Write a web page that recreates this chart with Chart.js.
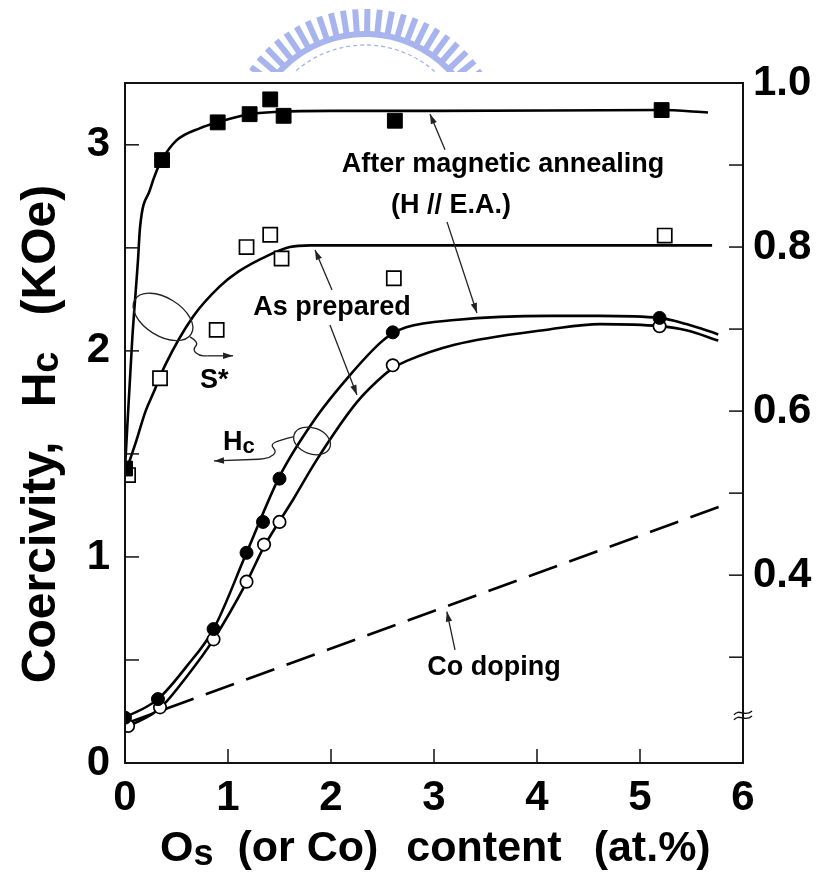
<!DOCTYPE html>
<html><head><meta charset="utf-8">
<script src="https://cdn.jsdelivr.net/npm/chart.js@4.4.0/dist/chart.umd.min.js"></script>
<style>html,body{margin:0;padding:0;background:#fff;}canvas{display:block;}</style>
</head><body>
<canvas id="c" width="829" height="874"></canvas>
<script>
// ---------- data ----------
// x = Os (or Co) content (at.%)
// S* (right axis) : filled squares = after magnetic annealing, open squares = as prepared
const xAnnealS = [0.00, 0.36, 0.90, 1.21, 1.41, 1.54, 2.62, 5.21];
const sAnneal  = [0.530, 0.906, 0.952, 0.962, 0.980, 0.960, 0.954, 0.967];
const xPrepS   = [0.03, 0.34, 0.89, 1.18, 1.41, 1.52, 2.61, 5.24];
const sPrep    = [0.522, 0.640, 0.699, 0.800, 0.815, 0.786, 0.762, 0.814];
// Hc (left axis, KOe) : filled circles = after annealing, open circles = as prepared
const xAnnealH = [0.00, 0.32, 0.86, 1.18, 1.34, 1.50, 2.60, 5.19];
const hcAnneal = [0.22, 0.31, 0.65, 1.02, 1.17, 1.38, 2.09, 2.16];
const xPrepH   = [0.03, 0.34, 0.86, 1.18, 1.35, 1.50, 2.60, 5.19];
const hcPrep   = [0.18, 0.27, 0.60, 0.88, 1.06, 1.17, 1.93, 2.12];
// hand-drawn guide curves
const curveAnnealSx = [0.00, 0.07, 0.126, 0.146, 0.243, 0.31, 0.356, 0.50, 0.73, 0.90, 1.20, 1.50, 2.00, 3.00, 5.20, 5.66];
const curveAnnealSy = [0.530, 0.687, 0.784, 0.824, 0.870, 0.894, 0.906, 0.930, 0.945, 0.952, 0.962, 0.965, 0.966, 0.966, 0.967, 0.964];
const curvePrepSx = [0.00, 0.10, 0.20, 0.275, 0.39, 0.66, 0.92, 1.10, 1.376, 1.60, 1.80, 3.00, 5.70];
const curvePrepSy = [0.523, 0.560, 0.600, 0.622, 0.656, 0.715, 0.752, 0.770, 0.789, 0.800, 0.802, 0.802, 0.802];
const curveAnnealHx = [0.00, 0.32, 0.60, 0.86, 1.18, 1.50, 1.86, 2.18, 2.48, 2.60, 2.73, 3.20, 4.13, 4.60, 5.19, 5.45, 5.76];
const curveAnnealHy = [0.22, 0.31, 0.47, 0.65, 1.02, 1.39, 1.68, 1.88, 2.04, 2.085, 2.115, 2.15, 2.17, 2.17, 2.16, 2.13, 2.08];
const curvePrepHx = [0.03, 0.34, 0.60, 0.86, 1.18, 1.35, 1.634, 1.86, 2.25, 2.52, 2.60, 2.73, 3.20, 4.13, 4.61, 5.19, 5.45, 5.76];
const curvePrepHy = [0.176, 0.266, 0.42, 0.60, 0.877, 1.05, 1.28, 1.47, 1.75, 1.885, 1.915, 1.95, 2.03, 2.105, 2.13, 2.12, 2.10, 2.05];
// Co doping (dashed straight line)
const xCoDoping = [0.00, 5.83];
const coDoping  = [0.19, 1.255];
// ticks
const xTicks = [0, 1, 2, 3, 4, 5, 6];
const leftTicks = [0, 0.5, 1, 1.5, 2, 2.5, 3];
const leftLabels = [0, 1, 2, 3];
const rightTicks = [0.3, 0.4, 0.5, 0.6, 0.7, 0.8, 0.9, 1.0];
const rightLabels = [0.4, 0.6, 0.8, 1.0];

// ---------- helpers ----------
const FONT = '"Liberation Sans", Arial, Helvetica, sans-serif';
const mk = (xs, ys) => xs.map((x, i) => ({x: x, y: ys[i]}));
const curve = (xs, ys, axis) => ({
  data: mk(xs, ys), yAxisID: axis, showLine: true, pointRadius: 0, borderColor: '#000',
  borderWidth: 2.6, cubicInterpolationMode: 'monotone', fill: false, order: 1
});

function arrow(ctx, x1, y1, x2, y2) {
  ctx.beginPath(); ctx.moveTo(x1, y1); ctx.lineTo(x2, y2); ctx.stroke();
  const a = Math.atan2(y2 - y1, x2 - x1), L = 10, W = 3.2;
  ctx.beginPath();
  ctx.moveTo(x2, y2);
  ctx.lineTo(x2 - L * Math.cos(a) + W * Math.sin(a), y2 - L * Math.sin(a) - W * Math.cos(a));
  ctx.lineTo(x2 - L * Math.cos(a) - W * Math.sin(a), y2 - L * Math.sin(a) + W * Math.cos(a));
  ctx.closePath(); ctx.fill();
}
function smoothPath(ctx, pts) {
  ctx.beginPath(); ctx.moveTo(pts[0][0], pts[0][1]);
  for (let i = 1; i < pts.length - 1; i++) {
    const mx = (pts[i][0] + pts[i + 1][0]) / 2, my = (pts[i][1] + pts[i + 1][1]) / 2;
    ctx.quadraticCurveTo(pts[i][0], pts[i][1], mx, my);
  }
  const l = pts[pts.length - 1]; ctx.lineTo(l[0], l[1]); ctx.stroke();
}
// rich text run: parts [{t, size, dy, gap}]
function drawRun(ctx, parts, x0, y0) {
  let x = x0;
  parts.forEach(p => {
    ctx.font = 'bold ' + p.size + 'px ' + FONT;
    x += (p.gap || 0);
    ctx.fillText(p.t, x, y0 + (p.dy || 0));
    x += ctx.measureText(p.t).width;
  });
  return x - x0;
}
function runWidth(ctx, parts) {
  let w = 0;
  parts.forEach(p => { ctx.font = 'bold ' + p.size + 'px ' + FONT; w += (p.gap || 0) + ctx.measureText(p.t).width; });
  return w;
}

// ---------- plugins ----------
const watermark = {
  id: 'watermark',
  beforeDraw(chart) {
    const ctx = chart.ctx;
    ctx.save();
    ctx.beginPath(); ctx.rect(0, 0, chart.width, 72); ctx.clip();
    ctx.fillStyle = 'rgb(168,180,237)';
    ctx.strokeStyle = 'rgb(168,180,237)';
    const cx = 365, cy = 150;
    for (let d = -154; d <= -26; d += 5) {
      const r = d * Math.PI / 180;
      ctx.save();
      ctx.translate(cx + Math.cos(r) * 129, cy + Math.sin(r) * 129);
      ctx.rotate(r);
      ctx.fillRect(-12, -3, 24, 6);
      ctx.restore();
    }
    ctx.lineWidth = 6;
    ctx.beginPath(); ctx.arc(cx, cy, 116, -156 * Math.PI / 180, -24 * Math.PI / 180); ctx.stroke();
    ctx.lineWidth = 1.3; ctx.setLineDash([4, 3]);
    ctx.beginPath(); ctx.arc(cx, cy, 105, -150 * Math.PI / 180, -30 * Math.PI / 180); ctx.stroke();
    ctx.restore();
  }
};

const decor = {
  id: 'decor',
  afterDraw(chart) {
    const {ctx, chartArea: a, scales} = chart;
    const sx = scales.x, sy = scales.y, s2 = scales.y2;
    const P = (x, y) => [sx.getPixelForValue(x), sy.getPixelForValue(y)];
    ctx.save();
    ctx.strokeStyle = '#111'; ctx.fillStyle = '#111';
    // frame
    ctx.lineWidth = 2;
    ctx.strokeRect(a.left, a.top, a.right - a.left, a.bottom - a.top);
    // inward ticks
    ctx.lineWidth = 1.5;
    const seg = (x1, y1, x2, y2) => { ctx.beginPath(); ctx.moveTo(x1, y1); ctx.lineTo(x2, y2); ctx.stroke(); };
    leftTicks.forEach(v => { if (v === 0) return; const y = sy.getPixelForValue(v); seg(a.left, y, a.left + 14, y); });
    xTicks.forEach(v => { if (v === 0 || v === 6) return; const x = sx.getPixelForValue(v); seg(x, a.bottom, x, a.bottom - 14); });
    rightTicks.forEach(v => { const y = s2.getPixelForValue(v); if (y < a.top + 2) return; seg(a.right - 14, y, a.right, y); });
    // axis break on right axis
    const yb = s2.getPixelForValue(0.229);
    ctx.lineWidth = 1.4;
    [-2.5, 2.5].forEach(o => {
      ctx.beginPath();
      ctx.moveTo(a.right - 9, yb + o + 2);
      ctx.bezierCurveTo(a.right - 4, yb + o - 5, a.right + 2, yb + o + 5, a.right + 9, yb + o - 2);
      ctx.stroke();
    });

    // annotation texts
    ctx.fillStyle = '#000';
    ctx.textBaseline = 'alphabetic';
    ctx.font = 'bold 27px ' + FONT;
    ctx.textAlign = 'center';
    let p = P(3.67, 2.869); ctx.fillText('After magnetic annealing', p[0], p[1]);
    p = P(3.165, 2.67); ctx.fillText('(H // E.A.)', p[0], p[1]);
    p = P(2.01, 2.175); ctx.fillText('As prepared', p[0], p[1]);
    p = P(3.583, 0.427); ctx.fillText('Co doping', p[0], p[1]);
    ctx.textAlign = 'left';
    p = P(0.728, 1.82); ctx.fillText('S*', p[0], p[1]);
    p = P(0.951, 1.519);
    drawRun(ctx, [{t: 'H', size: 27}, {t: 'c', size: 22, dy: 3}], p[0], p[1]);

    // arrows
    ctx.lineWidth = 1.3; ctx.strokeStyle = '#222'; ctx.fillStyle = '#222';
    let q1 = P(3.107, 2.976), q2 = P(2.961, 3.150); arrow(ctx, q1[0], q1[1], q2[0], q2[1]);
    q1 = P(3.126, 2.626); q2 = P(3.417, 2.184); arrow(ctx, q1[0], q1[1], q2[0], q2[1]);
    q1 = P(2.010, 2.296); q2 = P(1.845, 2.490); arrow(ctx, q1[0], q1[1], q2[0], q2[1]);
    q1 = P(1.990, 2.126); q2 = P(2.252, 1.786); arrow(ctx, q1[0], q1[1], q2[0], q2[1]);
    q1 = P(3.204, 0.549); q2 = P(3.125, 0.735); arrow(ctx, q1[0], q1[1], q2[0], q2[1]);

    // S* loop + tail
    let c = P(0.369, 2.165);
    ctx.beginPath(); ctx.ellipse(c[0], c[1], 33, 19, 0.55, 0, Math.PI * 2); ctx.stroke();
    let tail = [P(0.631, 2.068), P(0.72, 2.042), P(0.655, 2.005), P(0.72, 1.976), P(0.80, 1.976)];
    smoothPath(ctx, tail);
    q1 = P(0.80, 1.976); q2 = P(1.049, 1.976); arrow(ctx, q1[0], q1[1], q2[0], q2[1]);
    // Hc loop + tail
    c = P(1.816, 1.563);
    ctx.beginPath(); ctx.ellipse(c[0], c[1], 19, 13, 0.35, 0, Math.PI * 2); ctx.stroke();
    tail = [P(1.631, 1.583), P(1.505, 1.568), P(1.41, 1.545), P(1.475, 1.510), P(1.40, 1.480), P(1.30, 1.474)];
    smoothPath(ctx, tail);
    q1 = P(1.30, 1.474); q2 = P(0.864, 1.466); arrow(ctx, q1[0], q1[1], q2[0], q2[1]);

    // axis titles
    ctx.fillStyle = '#000';
    ctx.textAlign = 'left'; ctx.textBaseline = 'alphabetic';
    const bottomParts = [
      {t: 'O', size: 43}, {t: 's', size: 36, dy: 4},
      {t: '(or Co)', size: 43, gap: 24},
      {t: 'content', size: 43, gap: 28},
      {t: '(at.%)', size: 43, gap: 32}
    ];
    drawRun(ctx, bottomParts, 160, 861);
    const leftParts = [
      {t: 'Coercivity,', size: 48},
      {t: 'H', size: 48, gap: 34}, {t: 'c', size: 38, dy: 3},
      {t: '(KOe)', size: 48, gap: 36}
    ];
    const lw = runWidth(ctx, leftParts);
    ctx.save();
    ctx.translate(55, 434);
    ctx.rotate(-Math.PI / 2);
    drawRun(ctx, leftParts, -lw / 2, 0);
    ctx.restore();
    ctx.restore();
  }
};

// ---------- chart ----------
const tickFont = {family: FONT, size: 42, weight: 'bold'};
new Chart(document.getElementById('c'), {
  type: 'scatter',
  data: {
    datasets: [
      {label: 'S* after magnetic annealing', data: mk(xAnnealS, sAnneal), yAxisID: 'y2', pointStyle: 'rect',
       pointRadius: 10.5, pointBackgroundColor: '#000', pointBorderColor: '#000', pointBorderWidth: 1, order: 0},
      {label: 'S* as prepared', data: mk(xPrepS, sPrep), yAxisID: 'y2', pointStyle: 'rect',
       pointRadius: 10, pointBackgroundColor: '#fff', pointBorderColor: '#000', pointBorderWidth: 1.7, order: 0},
      {label: 'Hc after magnetic annealing', data: mk(xAnnealH, hcAnneal), yAxisID: 'y', pointStyle: 'circle',
       pointRadius: 6.5, pointBackgroundColor: '#000', pointBorderColor: '#000', pointBorderWidth: 1, order: 0},
      {label: 'Hc as prepared', data: mk(xPrepH, hcPrep), yAxisID: 'y', pointStyle: 'circle',
       pointRadius: 6.2, pointBackgroundColor: '#fff', pointBorderColor: '#000', pointBorderWidth: 1.7, order: 0},
      Object.assign(curve(curveAnnealSx, curveAnnealSy, 'y2'), {label: 'S* annealed curve'}),
      Object.assign(curve(curvePrepSx, curvePrepSy, 'y2'), {label: 'S* prepared curve'}),
      Object.assign(curve(curveAnnealHx, curveAnnealHy, 'y'), {label: 'Hc annealed curve'}),
      Object.assign(curve(curvePrepHx, curvePrepHy, 'y'), {label: 'Hc prepared curve'}),
      {label: 'Co doping', data: mk(xCoDoping, coDoping), yAxisID: 'y', showLine: true, pointRadius: 0,
       borderColor: '#000', borderWidth: 2.6, borderDash: [30, 13], fill: false, order: 1}
    ]
  },
  options: {
    responsive: false, animation: false, events: [],
    layout: {padding: {top: 83, left: 0, right: 0, bottom: 0}},
    plugins: {legend: {display: false}, tooltip: {enabled: false}, title: {display: false}},
    scales: {
      x: {
        type: 'linear', position: 'bottom', min: 0, max: 6,
        afterBuildTicks: s => { s.ticks = xTicks.map(v => ({value: v})); },
        afterFit: s => { s.height = 111; },
        grid: {display: false, drawTicks: false}, border: {display: false},
        ticks: {font: tickFont, color: '#000', padding: 10, autoSkip: false, maxRotation: 0,
                callback: v => xTicks.includes(v) ? String(v) : ''},
        title: {display: false}
      },
      y: {
        type: 'linear', position: 'left', min: 0, max: 3.30,
        afterBuildTicks: s => { s.ticks = leftTicks.map(v => ({value: v})); },
        afterFit: s => { s.width = 125; },
        grid: {display: false, drawTicks: false}, border: {display: false},
        ticks: {font: tickFont, color: '#000', padding: 15, autoSkip: false,
                callback: v => leftLabels.includes(v) ? String(v) : ''},
        title: {display: false}
      },
      y2: {
        type: 'linear', position: 'right', min: 0.171, max: 1.0,
        afterBuildTicks: s => { s.ticks = rightTicks.map(v => ({value: v})); },
        afterFit: s => { s.width = 86; },
        grid: {display: false, drawTicks: false}, border: {display: false},
        ticks: {font: tickFont, color: '#000', padding: 10, autoSkip: false,
                callback: v => rightLabels.some(r => Math.abs(r - v) < 1e-6) ? v.toFixed(1) : ''},
        title: {display: false}
      }
    }
  },
  plugins: [watermark, decor]
});
</script>
</body></html>
